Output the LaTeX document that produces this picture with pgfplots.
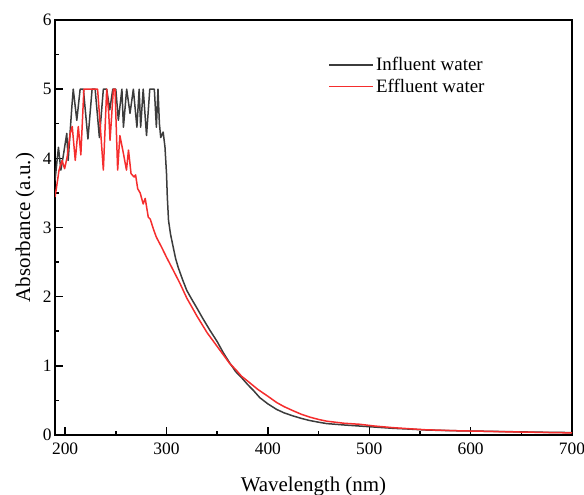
\documentclass[border=0pt]{standalone}
\usepackage{pgfplots}
\pgfplotsset{compat=1.18}
\usepackage{fontspec}
\setmainfont{Liberation Serif}
\definecolor{cblack}{RGB}{60,60,60}
\definecolor{cred}{RGB}{245,45,45}
\begin{document}
\begin{tikzpicture}
\useasboundingbox (-55bp,-60bp) rectangle (529bp,435bp);
\begin{axis}[at={(0,0)}, anchor=south west, scale only axis,
 width=517bp, height=415bp,
 xmin=190, xmax=700, ymin=0, ymax=6,
 xtick={200,300,...,700}, ytick={0,1,...,6},
 minor x tick num=1, minor y tick num=1,
 tick pos=left, tick align=inside,
 major tick length=8bp, minor tick length=4bp,
 every tick/.style={black, line width=1.5bp},
 axis line style={line width=1.8bp},
 ticklabel style={font=\fontsize{17.5}{17.5}\selectfont},
 xticklabel style={yshift=-4bp},
 /pgf/number format/assume math mode=true,
 xlabel={Wavelength (nm)}, ylabel={Absorbance (a.u.)},
 label style={font=\fontsize{21}{21}\selectfont},
 xlabel style={at={(axis description cs:0.5,0)}, anchor=base, yshift=-56bp},
 ylabel style={at={(axis description cs:-0.048,0.5)}, anchor=base},
 legend style={draw=none, fill=none, at={(axis description cs:0.523,0.92)}, anchor=north west,
   font=\fontsize{19}{19}\selectfont, nodes={inner sep=2bp}, row sep=3bp},
 legend cell align=left,
 legend image code/.code={\draw[#1] (0bp,0bp) -- (44bp,0bp);},
]
\addplot[cblack, line width=1.5bp, line join=round] coordinates {
(190,3.68)(193.4,4.16)(195.8,3.83)(198,4.02)(201.6,4.36)(203,3.97)(206.6,4.74)
(208,5.0)(211.5,4.55)(214.8,5.0)(218,5.0)(222.5,4.28)(226.6,5.0)(229.6,5.0)
(233.8,4.3)(237.7,5.0)(241,5.0)(244,4.7)(247,5.0)(250,5.0)(252.5,4.55)(256,5.0)
(257.5,4.45)(260.7,5.0)(264,4.65)(267.3,5.0)(270.8,4.45)(273,5.0)(274.5,4.45)
(277,5.0)(280.3,4.33)(283.5,5.0)(286,5.0)(288,5.0)(290,4.45)(291.6,5.0)(293,4.5)
(294.3,4.3)(296.7,4.38)(298.5,4.16)(300,3.78)(300.8,3.44)(302,3.1)(304,2.9)
(306.7,2.71)(309,2.55)(311.6,2.42)(316,2.24)(320,2.09)(325,1.96)(329.8,1.84)
(336,1.68)(343,1.51)(350,1.35)(356,1.19)(362,1.05)(368,0.92)(374,0.83)(380,0.73)
(386,0.64)(392,0.54)(400,0.45)(408.6,0.37)(416,0.32)(425,0.275)(433,0.24)
(441,0.21)(450,0.185)(458,0.165)(475,0.145)(490,0.13)(505,0.115)(523,0.097)
(540,0.085)(556,0.072)(575,0.065)(590,0.06)(610,0.055)(630,0.05)(650,0.045)
(670,0.04)(700,0.035)
};
\addlegendentry{Influent water}
\addplot[cred, line width=1.5bp, line join=round] coordinates {
(190,3.44)(191.5,3.58)(194,3.83)(197,3.97)(199.5,3.85)(202,4.02)(205,4.36)
(207,4.46)(210,3.97)(213,4.46)(215.5,4.05)(218.5,5.0)(222,5.0)(225,5.0)(229,5.0)
(232,5.0)(234,4.6)(237.7,3.83)(241,5.0)(243,4.65)(244.3,4.26)(247.6,5.0)
(249.2,5.0)(251.8,3.83)(254,4.33)(257.5,4.07)(260.5,3.83)(262.5,4.12)(265,3.78)
(268,3.73)(269.5,3.76)(271.6,3.56)(274,3.5)(277,3.34)(279,3.42)(282,3.15)
(284,3.12)(287,2.98)(290,2.86)(295,2.72)(300,2.57)(306.7,2.38)(313,2.2)
(320,1.98)(330,1.72)(340,1.48)(350,1.28)(356,1.16)(362,1.04)(368,0.95)
(374,0.85)(380,0.78)(390,0.66)(400,0.56)(408.6,0.47)(416,0.41)(425,0.35)
(433,0.3)(441,0.26)(450,0.225)(458,0.2)(475,0.17)(490.6,0.155)(505,0.13)
(523.5,0.106)(540,0.09)(556,0.075)(575,0.067)(590,0.06)(610,0.055)(630,0.048)
(650,0.043)(670,0.038)(700,0.03)
};
\addlegendentry{Effluent water}
\end{axis}
\end{tikzpicture}
\end{document}
